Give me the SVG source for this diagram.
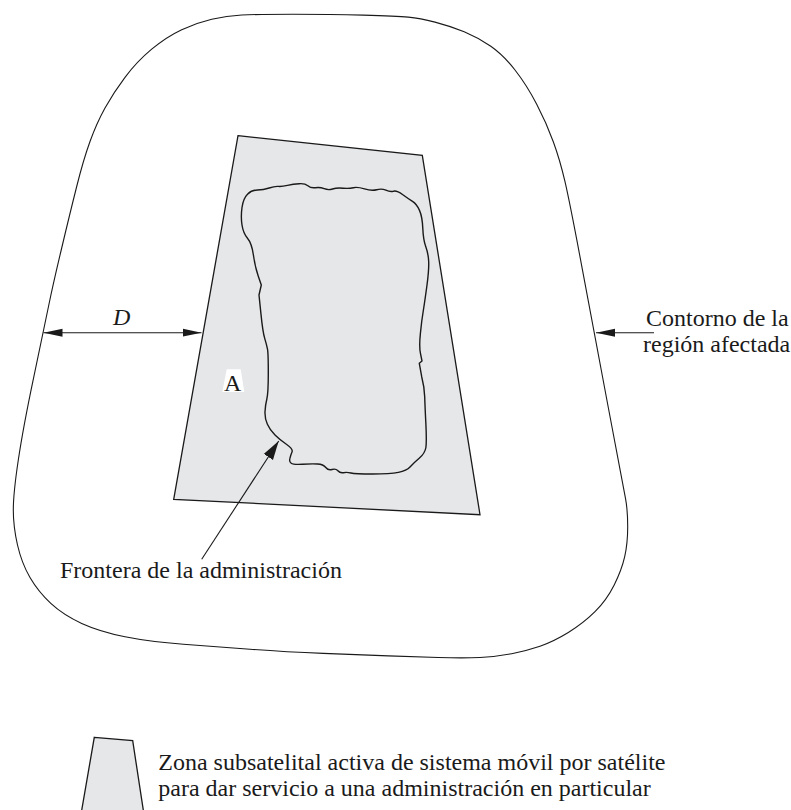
<svg xmlns="http://www.w3.org/2000/svg" width="791" height="810" viewBox="0 0 791 810">
<style>
text{font-family:"Liberation Serif","Times New Roman",serif;font-size:24px;fill:#1a1a1a}
.zone{fill:#e6e7e9;stroke:#1a1a1a;stroke-width:1.3;stroke-linejoin:miter}
.line{fill:none;stroke:#1a1a1a;stroke-width:1.1}
.border{fill:none;stroke:#1a1a1a;stroke-width:1.4;stroke-linejoin:round}
</style>
<defs>
<marker id="ah" markerUnits="userSpaceOnUse" markerWidth="20" markerHeight="10" refX="19" refY="5" orient="auto-start-reverse"><path d="M0 1L19 5L0 9Z" fill="#1a1a1a"/></marker>
<marker id="ah2" markerUnits="userSpaceOnUse" markerWidth="20" markerHeight="12" refX="19" refY="6" orient="auto"><path d="M0 0.5L19 6L0 11.5Z" fill="#1a1a1a"/></marker>
</defs>
<g id="affected-region"><path class="line" d="M293,14.3 Q330,14.3 363.3,15.1 Q396.7,16 408.3,17.1 Q420,18.3 435,22.1 Q450,26 464.2,31.8 Q478.3,37.7 490.8,46.3 Q503.3,55 515,70 Q526.7,85 536.7,104.2 Q546.7,123.3 553.3,141.7 Q560,160 565,181.7 Q570,203.3 581.7,265.8 Q593.3,328.3 608.3,407.5 Q623.3,486.7 625.5,498.3 Q627.7,510 627.7,526.7 Q627.7,543.3 624.7,556.7 Q621.7,570 614.2,585 Q606.7,600 595,611.7 Q583.3,623.3 568.3,632.5 Q553.3,641.7 540,646.2 Q526.7,650.7 511.7,653.7 Q496.7,656.7 480,657.5 Q463.3,658.3 438.3,657.5 Q413.3,656.7 388.3,655.9 Q363.3,655 323.3,653.4 Q283.3,651.7 250,649.2 Q216.7,646.7 183.4,644.2 Q150,641.7 125,636.7 Q100,631.7 81.7,623.4 Q63.3,615 50.8,603.4 Q38.3,591.7 30,577.5 Q21.7,563.3 17.5,545 Q13.3,526.7 13.3,510 Q13.3,493.3 18.3,460 Q23.3,426.7 33.7,377.4 Q44,328 48.7,305.5 Q53.3,283 61.7,248 Q70,213 76.7,186.5 Q83.3,160 90,141.5 Q96.7,123 105,108 Q113.3,93 125,77.4 Q136.7,61.7 151.7,49.2 Q166.7,36.7 181.7,29.7 Q196.7,22.7 211.7,19.2 Q226.7,15.7 241.7,15 Q256.7,14.3 293,14.3Z"/></g>
<g id="service-zone"><polygon class="zone" points="238,135.7 422.3,155.3 480,514.7 173.7,499.3"/></g>
<g id="admin-border"><path class="border" d="M257.5,190 Q263.3,190 269.2,188 Q275,186 278.4,186.4 Q281.7,186.7 287.5,185.4 Q293.3,184 299.2,183.7 Q305,183.3 307.9,185.8 Q310.7,188.3 315.4,187.7 Q320,187 324.2,188.7 Q328.3,190.3 332.5,189 Q336.7,187.7 343,188.2 Q349.3,188.7 353.3,187.7 Q357.3,186.7 364.5,188.9 Q371.7,191 376.7,189.7 Q381.7,188.3 385.9,190.2 Q390,192 393.4,191.2 Q396.7,190.3 402.5,194.5 Q408.3,198.7 412.5,201.4 Q416.7,204 419.5,210.4 Q422.3,216.7 422.8,228.4 Q423.3,240 425.8,246.7 Q428.3,253.3 428.7,261.7 Q429,270 427,285 Q425,300 423.4,310 Q421.7,320 420.4,333.4 Q419,346.7 420.5,353.7 L422,361 L419.3,363.3 L421.7,376.7 Q424.3,386.7 424.7,396.7 Q425,406.7 425.9,424.2 Q426.7,441.7 425.9,447.5 Q425,453.3 419.2,458.3 Q413.3,463.3 410,467 Q406.7,470.7 398.4,472.4 Q390,474 372.5,474 Q355,474 350.9,473 Q346.7,472 343.4,472.7 Q340,473.3 337.9,470.8 Q335.7,468.3 332,469.5 Q328.3,470.7 325.8,467.5 Q323.3,464.3 317.5,464 Q311.7,463.7 302.5,464.2 Q293.3,464.7 291.2,463.2 Q289,461.7 289.9,458.4 Q290.7,455 292,452 Q293.3,449 286.7,444.5 Q280,440 275,435 Q270,430 267.4,424.2 Q264.7,418.3 265,411.7 Q265.3,405 266.8,399.2 Q268.3,393.3 268.3,373.3 Q268.3,353.3 267.5,349.2 Q266.7,345 264.7,338.4 Q262.7,331.7 260.9,313.4 L259,295 L261.3,285 L258.2,275.9 Q255,266.7 253.4,255 Q251.7,243.3 247.5,238.3 Q243.3,233.3 242,225 Q240.7,216.7 242,207.5 Q243.3,198.3 247.5,194.2 Q251.7,190 257.5,190Z"/></g>
<g id="connectors">
<line class="line" x1="43.5" y1="332.7" x2="201.5" y2="332.7" marker-start="url(#ah)" marker-end="url(#ah)"/>
<line class="line" x1="654" y1="332.7" x2="596" y2="332.7" marker-end="url(#ah)"/>
<line class="line" x1="201.7" y1="559.3" x2="278.7" y2="441" marker-end="url(#ah2)"/>
</g>
<g id="label-d"><text x="113" y="325" font-style="italic">D</text></g>
<g id="label-a"><polygon points="226.7,369.3 240.7,369.3 244.3,392 222.3,392" fill="#fff"/><text x="224" y="390.7">A</text></g>
<g id="label-contour"><text x="646" y="325.7">Contorno de la</text><text x="643" y="351.7">región afectada</text></g>
<g id="label-border"><text x="60" y="578">Frontera de la administración</text></g>
<g id="legend"><polygon class="zone" points="94.3,737.3 132.7,740.7 144.2,816 80.7,816"/><text x="158.3" y="770">Zona subsatelital activa de sistema móvil por satélite</text><text x="158.3" y="796">para dar servicio a una administración en particular</text></g>
</svg>
